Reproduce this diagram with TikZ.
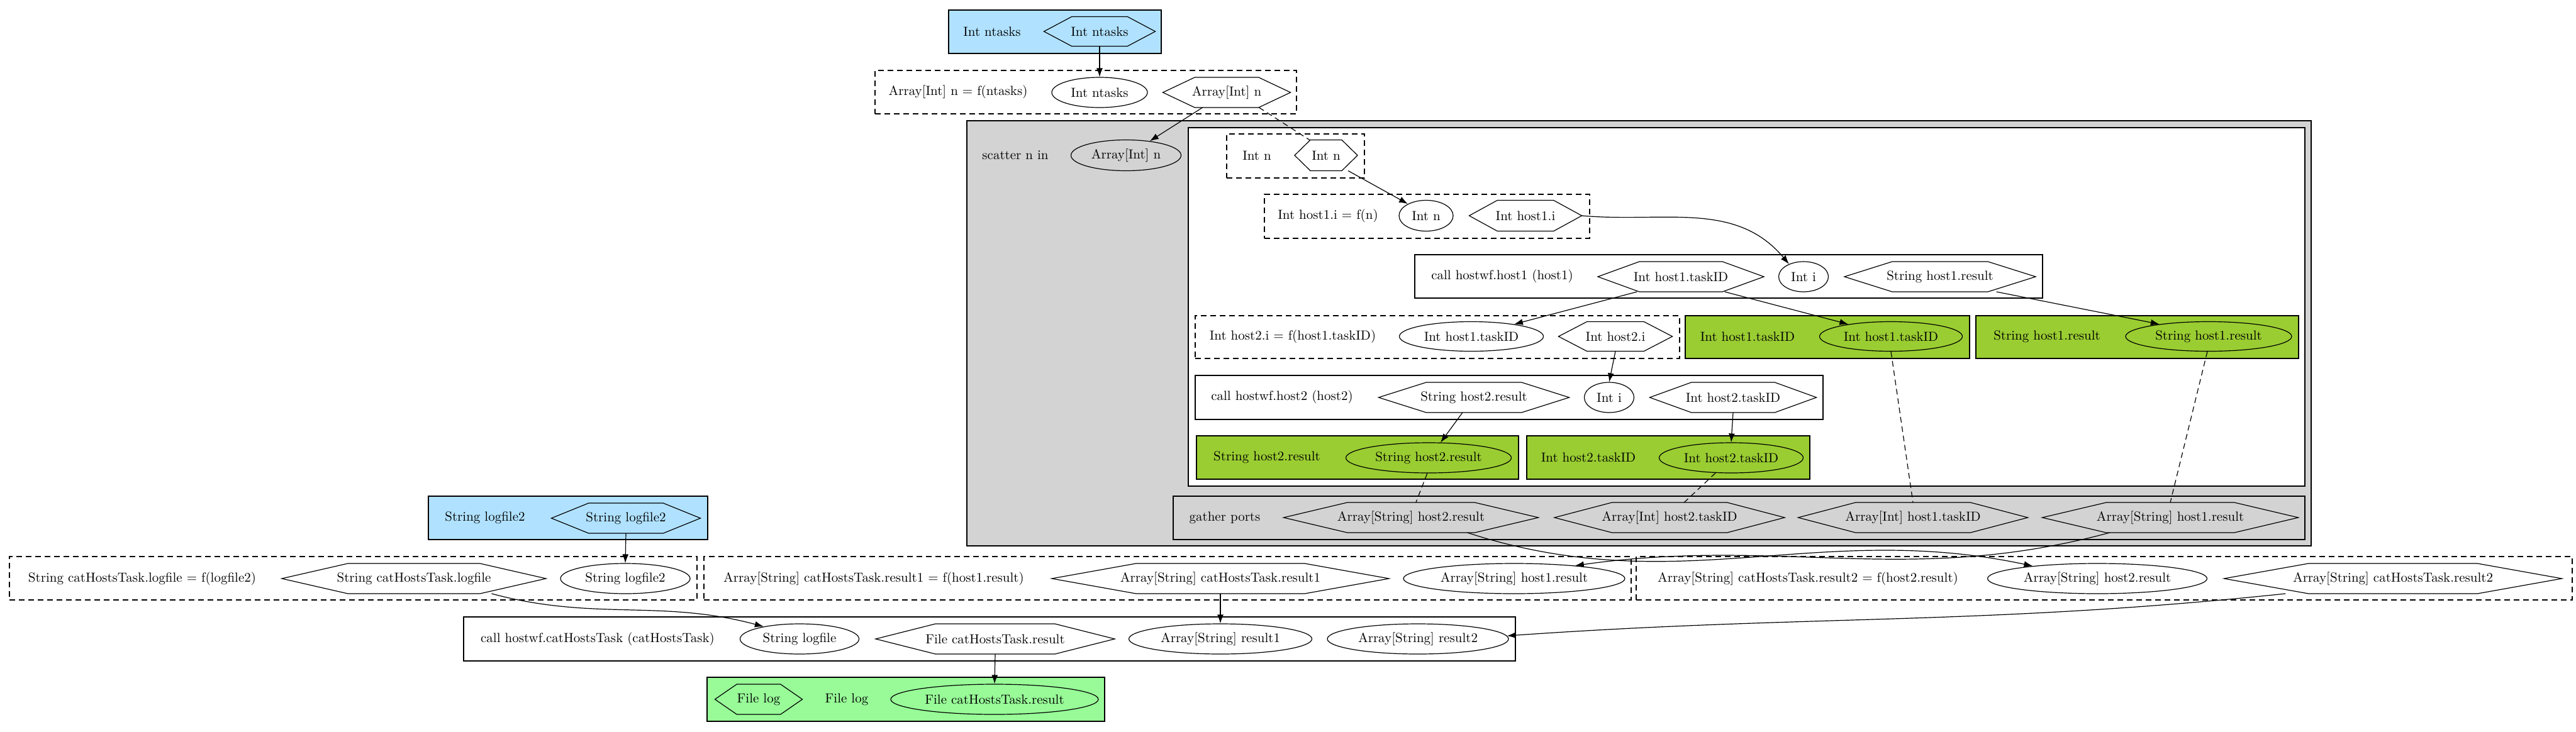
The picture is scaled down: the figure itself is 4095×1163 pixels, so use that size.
\documentclass[tikz,border=0pt]{standalone}
\usetikzlibrary{shapes.geometric,arrows.meta}
\definecolor{inblue}{HTML}{B0E2FF}
\definecolor{outgreen}{HTML}{9ACD32}
\definecolor{wfgreen}{HTML}{98FB98}
\definecolor{scatgray}{HTML}{D3D3D3}

\makeatletter
\newdimen\hxl \newdimen\hxr \newdimen\hyb \newdimen\hyt \newdimen\hxq \newdimen\hym
\pgfdeclareshape{wdlhex}{%
  \inheritsavedanchors[from=rectangle]%
  \inheritanchorborder[from=rectangle]%
  \inheritanchor[from=rectangle]{center}%
  \inheritanchor[from=rectangle]{north}%
  \inheritanchor[from=rectangle]{south}%
  \inheritanchor[from=rectangle]{east}%
  \inheritanchor[from=rectangle]{west}%
  \inheritanchor[from=rectangle]{north east}%
  \inheritanchor[from=rectangle]{north west}%
  \inheritanchor[from=rectangle]{south east}%
  \inheritanchor[from=rectangle]{south west}%
  \inheritanchor[from=rectangle]{mid}%
  \inheritanchor[from=rectangle]{base}%
  \backgroundpath{%
    \southwest \hxl=\pgf@x \hyb=\pgf@y
    \northeast \hxr=\pgf@x \hyt=\pgf@y
    \hxq=\hxr \advance\hxq by -\hxl \hxq=.25\hxq
    \hym=\hyt \advance\hym by \hyb \hym=.5\hym
    \pgfpathmoveto{\pgfqpoint{\hxl}{\hym}}%
    \pgfpathlineto{\pgfpointadd{\pgfqpoint{\hxl}{\hyt}}{\pgfqpoint{\hxq}{0pt}}}%
    \pgfpathlineto{\pgfpointadd{\pgfqpoint{\hxr}{\hyt}}{\pgfqpoint{-\hxq}{0pt}}}%
    \pgfpathlineto{\pgfqpoint{\hxr}{\hym}}%
    \pgfpathlineto{\pgfpointadd{\pgfqpoint{\hxr}{\hyb}}{\pgfqpoint{-\hxq}{0pt}}}%
    \pgfpathlineto{\pgfpointadd{\pgfqpoint{\hxl}{\hyb}}{\pgfqpoint{\hxq}{0pt}}}%
    \pgfpathclose
  }%
}
\makeatother

\tikzset{
  lbl/.style={inner sep=0pt},
  clus/.style 2 args={draw, rectangle, inner sep=0pt, outer sep=0pt,
    minimum width=#1*0.5pt, minimum height=#2*0.5pt},
  port/.style 2 args={draw, ellipse, inner sep=0pt,
    minimum width=#1*0.5pt, minimum height=#2*0.5pt},
  hexa/.style 2 args={draw, shape=wdlhex, inner sep=0pt, outer sep=0pt,
    minimum width=#1*0.5pt, minimum height=#2*0.5pt},
  decl/.style={dash pattern=on 4.5pt off 3pt},
  flow/.style={-{Latex[length=7pt,width=5pt]}},
  link/.style={dash pattern=on 4.5pt off 3pt}
}

\begin{document}
\begin{tikzpicture}[x=0.5pt,y=-0.5pt,line width=0.6pt,font=\fontsize{10.5}{12}\selectfont]
  \useasboundingbox (0,0) rectangle (4095,1163);

  \node[clus={338}{69},fill=inblue]        (inNt)     at (1677,50.5)  {};
  \node[clus={670}{69},decl]               (declN)    at (1726,146.5) {};
  \node[clus={2137}{676},fill=scatgray]    (scat)     at (2605.5,530) {};
  \node[clus={1775}{570},fill=white]       (body)     at (2776.5,488) {};
  \node[clus={219}{70},decl]               (declIn)   at (2059.5,248) {};
  \node[clus={517}{70},decl]               (declH1)   at (2268.5,344) {};
  \node[clus={998}{69}]                    (callH1)   at (2748,439.5) {};
  \node[clus={770}{68},decl]               (declH2)   at (2285,536)   {};
  \node[clus={452}{68},fill=outgreen]      (outH1t)   at (2905,536)   {};
  \node[clus={513}{68},fill=outgreen]      (outH1r)   at (3397.5,536) {};
  \node[clus={998}{70}]                    (callH2)   at (2399,632)   {};
  \node[clus={512}{69},fill=outgreen]      (outH2r)   at (2158,727.5) {};
  \node[clus={450}{69},fill=outgreen]      (outH2t)   at (2652,727.5) {};
  \node[clus={1799}{69},fill=scatgray]     (gath)     at (2764.5,823.5) {};
  \node[clus={444}{69},fill=inblue]        (inLf)     at (903,823.5)  {};
  \node[clus={1093}{69},decl]              (declLf)   at (561.5,919.5) {};
  \node[clus={1474}{69},decl]              (declR1)   at (1856,919.5) {};
  \node[clus={1488}{69},decl]              (declR2)   at (3345,919.5) {};
  \node[clus={1672}{70}]                   (callCat)  at (1573,1016)  {};
  \node[clus={632}{70},fill=wfgreen]       (outWf)    at (1440,1112)  {};

  \node[lbl] (lNt)    at (1577,50)   {Int ntasks};
  \node[lbl] (lDeclN) at (1523,146)  {Array[Int] n = f(ntasks)};
  \node[lbl] (lScat)  at (1614,247)  {scatter n in};
  \node[lbl] (lIn)    at (1998,247)  {Int n};
  \node[lbl] (lH1)    at (2111,343)  {Int host1.i = f(n)};
  \node[lbl] (lCall1) at (2388,439)  {call hostwf.host1 (host1)};
  \node[lbl] (lH2)    at (2055,535)  {Int host2.i = f(host1.taskID)};
  \node[lbl] (lO1t)   at (2778,535)  {Int host1.taskID};
  \node[lbl] (lO1r)   at (3254,535)  {String host1.result};
  \node[lbl] (lCall2) at (2038,631)  {call hostwf.host2 (host2)};
  \node[lbl] (lO2r)   at (2014,727)  {String host2.result};
  \node[lbl] (lO2t)   at (2525,727)  {Int host2.taskID};
  \node[lbl] (lGath)  at (1947,823)  {gather ports};
  \node[lbl] (lLf)    at (771,823)   {String logfile2};
  \node[lbl] (lDLf)   at (226,920)   {String catHostsTask.logfile = f(logfile2)};
  \node[lbl] (lDR1)   at (1389,920)  {Array[String] catHostsTask.result1 = f(host1.result)};
  \node[lbl] (lDR2)   at (2874,920)  {Array[String] catHostsTask.result2 = f(host2.result)};
  \node[lbl] (lCallC) at (950,1016)  {call hostwf.catHostsTask (catHostsTask)};
  \node[lbl] (lWf)    at (1346,1112) {File log};

  \node[hexa={177}{47}] (ntIn)    at (1748,50)   {Int ntasks};
  \node[port={152}{48}] (ntArg)   at (1748,147)  {Int ntasks};
  \node[hexa={203}{48}] (nOut)    at (1950,147)  {Array[Int] n};
  \node[port={175}{49}] (scIn)    at (1790,247)  {Array[Int] n};
  \node[hexa={100}{49}] (nHex)    at (2108,247)  {Int n};
  \node[port={86}{49}]  (h1n)     at (2267,343)  {Int n};
  \node[hexa={179}{49}] (h1i)     at (2425,343)  {Int host1.i};
  \node[hexa={264}{48}] (h1task)  at (2672,440)  {Int host1.taskID};
  \node[port={79}{48}]  (h1ii)    at (2867,440)  {Int i};
  \node[hexa={304}{48}] (h1res)   at (3084,440)  {String host1.result};
  \node[port={229}{47}] (h2in)    at (2339,535)  {Int host1.taskID};
  \node[hexa={181}{47}] (h2i)     at (2568,535)  {Int host2.i};
  \node[port={227}{47}] (o1task)  at (3006,535)  {Int host1.taskID};
  \node[port={264}{47}] (o1res)   at (3511,535)  {String host1.result};
  \node[hexa={303}{48}] (h2res)   at (2343,632)  {String host2.result};
  \node[port={79}{48}]  (h2ii)    at (2558,632)  {Int i};
  \node[hexa={265}{48}] (h2task)  at (2755,632)  {Int host2.taskID};
  \node[port={263}{48}] (o2res)   at (2271,728)  {String host2.result};
  \node[port={229}{48}] (o2task)  at (2752,728)  {Int host2.taskID};
  \node[hexa={405}{48}] (gH2res)  at (2243,823)  {Array[String] host2.result};
  \node[hexa={366}{48}] (gH2task) at (2654,823)  {Array[Int] host2.taskID};
  \node[hexa={365}{48}] (gH1task) at (3041,823)  {Array[Int] host1.taskID};
  \node[hexa={407}{48}] (gH1res)  at (3450,823)  {Array[String] host1.result};
  \node[hexa={237}{48}] (lfIn)    at (995,824)   {String logfile2};
  \node[hexa={420}{48}] (catLog)  at (658,920)   {String catHostsTask.logfile};
  \node[port={206}{48}] (lfArg)   at (994,920)   {String logfile2};
  \node[hexa={536}{48}] (r1Out)   at (1940,920)  {Array[String] catHostsTask.result1};
  \node[port={352}{48}] (r1Arg)   at (2407,920)  {Array[String] host1.result};
  \node[port={349}{48}] (r2Arg)   at (3334,920)  {Array[String] host2.result};
  \node[hexa={537}{48}] (r2Out)   at (3804,920)  {Array[String] catHostsTask.result2};
  \node[port={189}{48}] (cLog)    at (1271,1016) {String logfile};
  \node[hexa={380}{48}] (cRes)    at (1582,1016) {File catHostsTask.result};
  \node[port={291}{48}] (cR1)     at (1940,1016) {Array[String] result1};
  \node[port={288}{48}] (cR2)     at (2254,1016) {Array[String] result2};
  \node[hexa={139}{48}] (fLog)    at (1206,1112) {File log};
  \node[port={330}{48}] (fRes)    at (1581,1112) {File catHostsTask.result};

  \draw[flow] (ntIn.south) -- (ntArg.north);
  \draw[flow] (nOut.212) -- (scIn.31);
  \draw[link] (nOut.335) -- (nHex.137);
  \draw[flow] (nHex.325) -- (h1n.147);
  \draw[flow] (h1i.east) to[out=-5,in=130] (h1ii.139);
  \draw[flow] (h1task.199) -- (h2in.16);
  \draw[flow] (h1task.341) -- (o1task.164);
  \draw[flow] (h1res.345) -- (o1res.166);
  \draw[flow] (h2i.south) -- (h2ii.north);
  \draw[flow] (h2res.233) -- (o2res.52);
  \draw[flow] (h2task.south) -- (o2task.north);
  \draw[link] (o2res.265) -- (gH2res.72);
  \draw[link] (o2task.224) -- (gH2task.46);
  \draw[link] (o1task.south) -- (gH1task.north);
  \draw[link] (o1res.265) -- (gH1res.north);
  \draw[flow] (lfIn.south) -- (lfArg.north);
  \draw[flow] (catLog.349) to[out=-15,in=165] (cLog.161);
  \draw[flow] (r1Out.south) -- (cR1.north);
  \draw[flow] (r2Out.188) to[out=186,in=4] (cR2.2);
  \draw[flow] (gH1res.194) to[out=195,in=8] (r1Arg.12);
  \draw[flow] (gH2res.345) to[out=-18,in=168] (r2Arg.169);
  \draw[flow] (cRes.south) -- (fRes.north);
\end{tikzpicture}
\end{document}
